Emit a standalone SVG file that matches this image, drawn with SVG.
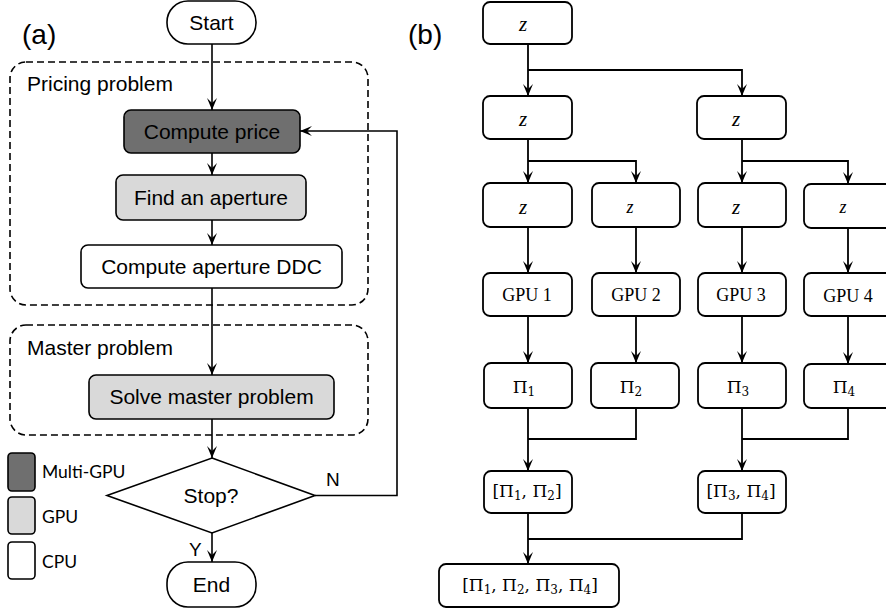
<svg xmlns="http://www.w3.org/2000/svg" width="886" height="609" viewBox="0 0 886 609">
<defs>
<marker id="arr" viewBox="0 0 12 12" refX="12" refY="6" markerWidth="12" markerHeight="12" markerUnits="userSpaceOnUse" orient="auto">
<path d="M0,1 L12,6 L0,11 L5,6 z" fill="#000"/>
</marker>
<style>
.bg{fill:#fff}
.box{stroke:#000;stroke-width:1.6}
.bx{fill:#fff;stroke:#000;stroke-width:1.8}
.dash{fill:none;stroke:#000;stroke-width:1.6;stroke-dasharray:7,4}
.ln{fill:none;stroke:#000;stroke-width:1.6}
.lb{fill:none;stroke:#000;stroke-width:1.8}
.ta{font-family:"Liberation Sans",Arial,sans-serif;font-size:21px;text-anchor:middle;fill:#000}
.tl{font-family:"Liberation Sans",Arial,sans-serif;font-size:21px;fill:#000}
.tg{font-family:Lato,"Open Sans",sans-serif;font-size:17.5px;fill:#000}
.tz{font-family:"Liberation Serif","Times New Roman",serif;font-style:italic;font-size:21px;text-anchor:middle;fill:#000}
.tt{font-family:"Liberation Serif","Times New Roman",serif;font-size:18px;text-anchor:middle;fill:#000}
.tp{font-family:"DejaVu Serif","Liberation Serif",serif;font-size:17px;text-anchor:middle;fill:#000}
.sub{font-size:12px}
.dark{fill:#6f6f6f}
.light{fill:#d9d9d9}
.white{fill:#fff}
</style>
</defs>
<rect class="bg" x="0" y="0" width="886" height="609"/>

<!-- Panel (a) -->
<text class="tl" x="22" y="44" style="font-size:28px">(a)</text>
<g id="pricing-group">
<rect class="dash" x="10" y="62" width="358" height="243" rx="16"/>
<text class="tl" x="27" y="91">Pricing problem</text>
</g>
<g id="master-group">
<rect class="dash" x="10" y="325" width="358" height="110" rx="16"/>
<text class="tl" x="27" y="355">Master problem</text>
</g>

<g id="start">
<rect class="box white" x="167" y="1" width="89" height="43" rx="21"/>
<text class="ta" x="211.5" y="30">Start</text>
</g>
<g id="compute-price">
<rect class="box dark" x="124" y="110" width="176" height="43" rx="7"/>
<text class="ta" x="212" y="139">Compute price</text>
</g>
<g id="find-aperture">
<rect class="box light" x="116" y="175" width="190" height="45" rx="7"/>
<text class="ta" x="211" y="205">Find an aperture</text>
</g>
<g id="compute-ddc">
<rect class="box white" x="81" y="245" width="261" height="43" rx="7"/>
<text class="ta" x="211.5" y="274">Compute aperture DDC</text>
</g>
<g id="solve-master">
<rect class="box light" x="89" y="375" width="245" height="44" rx="7"/>
<text class="ta" x="211.5" y="404">Solve master problem</text>
</g>
<g id="stop">
<polygon class="box white" points="212,458 315,495.5 212,533 107,495.5"/>
<text class="ta" x="211" y="503">Stop?</text>
</g>
<g id="end">
<rect class="box white" x="167" y="562" width="89" height="45" rx="21"/>
<text class="ta" x="211.5" y="592">End</text>
</g>

<g id="legend">
<rect class="box dark" x="8" y="453" width="27" height="38" rx="4"/>
<text class="tg" x="42" y="478">Multi-GPU</text>
<rect class="box light" x="8" y="497" width="27" height="37" rx="4"/>
<text class="tg" x="42" y="523">GPU</text>
<rect class="box white" x="8" y="542" width="27" height="37" rx="4"/>
<text class="tg" x="42" y="568">CPU</text>
</g>

<g id="connectors-a">
<path class="ln" d="M212,44 V110" marker-end="url(#arr)"/>
<path class="ln" d="M212,153 V175" marker-end="url(#arr)"/>
<path class="ln" d="M212,220 V245" marker-end="url(#arr)"/>
<path class="ln" d="M212,288 V375" marker-end="url(#arr)"/>
<path class="ln" d="M212,419 V458" marker-end="url(#arr)"/>
<path class="ln" d="M212,533 V562" marker-end="url(#arr)"/>
<path class="ln" d="M315,495.5 H397 V131 H300" marker-end="url(#arr)"/>
<text class="tl" x="326" y="486" style="font-size:19px">N</text>
<text class="tl" x="189" y="556" style="font-size:19px">Y</text>
</g>

<!-- Panel (b) -->
<text class="tl" x="408" y="44" style="font-size:28px">(b)</text>

<g id="z0"><rect class="bx" x="483" y="2" width="89" height="42" rx="7"/><text class="tz" x="523" y="31">z</text></g>
<g id="z1a"><rect class="bx" x="483" y="96" width="89" height="43" rx="7"/><text class="tz" x="523" y="126">z</text></g>
<g id="z1b"><rect class="bx" x="697" y="96" width="89" height="43" rx="7"/><text class="tz" x="736" y="126">z</text></g>
<g id="z2a"><rect class="bx" x="483" y="183" width="89" height="44" rx="7"/><text class="tz" x="523" y="214">z</text></g>
<g id="z2b"><rect class="bx" x="592" y="183" width="88" height="44" rx="7"/><text class="tz" x="630" y="213" style="font-size:18px">z</text></g>
<g id="z2c"><rect class="bx" x="698" y="183" width="88" height="44" rx="7"/><text class="tz" x="736" y="214">z</text></g>
<g id="z2d"><rect class="bx" x="804" y="184" width="89" height="44" rx="7"/><text class="tz" x="843" y="213" style="font-size:18px">z</text></g>

<g id="gpu1"><rect class="bx" x="483" y="273" width="89" height="43" rx="7"/><text class="tt" x="527" y="301">GPU 1</text></g>
<g id="gpu2"><rect class="bx" x="592" y="273" width="88" height="43" rx="7"/><text class="tt" x="636" y="301">GPU 2</text></g>
<g id="gpu3"><rect class="bx" x="698" y="273" width="88" height="43" rx="7"/><text class="tt" x="741" y="301">GPU 3</text></g>
<g id="gpu4"><rect class="bx" x="804" y="273" width="89" height="43" rx="7"/><text class="tt" x="848" y="302">GPU 4</text></g>

<g id="pi1"><rect class="bx" x="484" y="363" width="88" height="45" rx="7"/><text class="tp" x="524" y="393">Π<tspan class="sub" dy="3">1</tspan></text></g>
<g id="pi2"><rect class="bx" x="591" y="363" width="88" height="45" rx="7"/><text class="tp" x="631" y="393">Π<tspan class="sub" dy="3">2</tspan></text></g>
<g id="pi3"><rect class="bx" x="698" y="363" width="88" height="45" rx="7"/><text class="tp" x="738" y="393">Π<tspan class="sub" dy="3">3</tspan></text></g>
<g id="pi4"><rect class="bx" x="804" y="364" width="89" height="44" rx="7"/><text class="tp" x="844" y="393">Π<tspan class="sub" dy="3">4</tspan></text></g>

<g id="pi12"><rect class="bx" x="484" y="471" width="88" height="42" rx="7"/><text class="tp" x="527" y="497">[Π<tspan class="sub" dy="3">1</tspan><tspan dy="-3">, Π</tspan><tspan class="sub" dy="3">2</tspan><tspan dy="-3">]</tspan></text></g>
<g id="pi34"><rect class="bx" x="698" y="471" width="88" height="42" rx="7"/><text class="tp" x="741" y="497">[Π<tspan class="sub" dy="3">3</tspan><tspan dy="-3">, Π</tspan><tspan class="sub" dy="3">4</tspan><tspan dy="-3">]</tspan></text></g>
<g id="pi1234"><rect class="bx" x="439" y="564" width="180" height="43" rx="7"/><text class="tp" x="530" y="591">[Π<tspan class="sub" dy="3">1</tspan><tspan dy="-3">, Π</tspan><tspan class="sub" dy="3">2</tspan><tspan dy="-3">, Π</tspan><tspan class="sub" dy="3">3</tspan><tspan dy="-3">, Π</tspan><tspan class="sub" dy="3">4</tspan><tspan dy="-3">]</tspan></text></g>

<g id="connectors-b">
<path class="lb" d="M528,44 V96" marker-end="url(#arr)"/>
<path class="lb" d="M528,70 H742 V96" marker-end="url(#arr)"/>
<path class="lb" d="M528,139 V183" marker-end="url(#arr)"/>
<path class="lb" d="M528,161 H636 V183" marker-end="url(#arr)"/>
<path class="lb" d="M742,139 V183" marker-end="url(#arr)"/>
<path class="lb" d="M742,161 H848 V184" marker-end="url(#arr)"/>
<path class="lb" d="M528,227 V273" marker-end="url(#arr)"/>
<path class="lb" d="M636,227 V273" marker-end="url(#arr)"/>
<path class="lb" d="M742,227 V273" marker-end="url(#arr)"/>
<path class="lb" d="M848,228 V273" marker-end="url(#arr)"/>
<path class="lb" d="M528,316 V363" marker-end="url(#arr)"/>
<path class="lb" d="M636,316 V363" marker-end="url(#arr)"/>
<path class="lb" d="M742,316 V363" marker-end="url(#arr)"/>
<path class="lb" d="M848,316 V364" marker-end="url(#arr)"/>
<path class="lb" d="M528,408 V471" marker-end="url(#arr)"/>
<path class="lb" d="M636,408 V439 H528"/>
<path class="lb" d="M742,408 V471" marker-end="url(#arr)"/>
<path class="lb" d="M848,408 V439 H742"/>
<path class="lb" d="M528,513 V564" marker-end="url(#arr)"/>
<path class="lb" d="M742,513 V539 H528"/>
</g>
</svg>
